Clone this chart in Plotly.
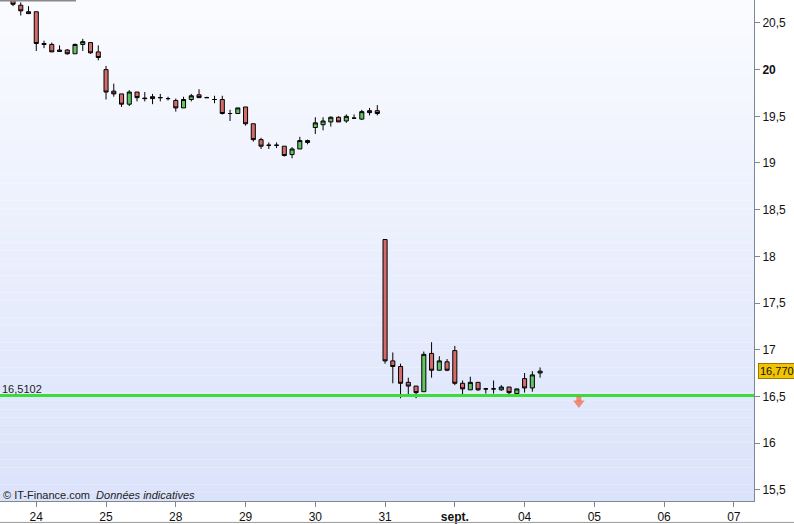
import plotly.graph_objects as go

# ---- data ----
opens = [20.76, 20.69, 20.62, 20.62, 20.28, 20.27, 20.21, 20.21, 20.17, 20.27,
         20.29, 20.19, 20.00, 19.77, 19.74, 19.63, 19.76, 19.695, 19.71, 19.70,
         19.69, 19.67, 19.59, 19.68, 19.73, 19.70, 19.68, 19.68, 19.53, 19.53,
         19.60, 19.42, 19.25, 19.19, 19.19, 19.18, 19.09, 19.15, 19.24, 19.38,
         19.41, 19.44, 19.49, 19.45, 19.48, 19.47, 19.56, 19.56, 18.18, 16.88,
         16.82, 16.65, 16.61, 16.55, 16.96, 16.78, 16.87, 16.99, 16.64, 16.57,
         16.65, 16.58, 16.58, 16.57, 16.60, 16.53, 16.69, 16.59, 16.75]
highs = [20.80, 20.72, 20.68, 20.62, 20.31, 20.29, 20.26, 20.22, 20.28, 20.33,
         20.29, 20.26, 20.04, 19.85, 19.74, 19.78, 19.76, 19.76, 19.74, 19.74,
         19.71, 19.69, 19.71, 19.74, 19.79, 19.71, 19.72, 19.72, 19.57, 19.59,
         19.60, 19.42, 19.27, 19.22, 19.22, 19.18, 19.17, 19.28, 19.25, 19.49,
         19.49, 19.50, 19.50, 19.52, 19.52, 19.57, 19.59, 19.62, 18.18, 16.97,
         16.85, 16.70, 16.61, 16.98, 17.08, 16.93, 16.90, 17.04, 16.67, 16.71,
         16.65, 16.59, 16.67, 16.62, 16.60, 16.58, 16.75, 16.77, 16.81]
lows = [20.68, 20.58, 20.60, 20.20, 20.23, 20.19, 20.19, 20.16, 20.17, 20.20,
        20.17, 20.10, 19.68, 19.71, 19.60, 19.61, 19.66, 19.66, 19.63, 19.66,
        19.67, 19.55, 19.59, 19.66, 19.70, 19.70, 19.64, 19.52, 19.45, 19.53,
        19.40, 19.23, 19.15, 19.15, 19.16, 19.07, 19.05, 19.15, 19.20, 19.31,
        19.35, 19.39, 19.44, 19.43, 19.48, 19.46, 19.51, 19.51, 16.85, 16.64,
        16.48, 16.51, 16.48, 16.55, 16.70, 16.78, 16.77, 16.62, 16.51, 16.57,
        16.56, 16.53, 16.53, 16.56, 16.51, 16.53, 16.54, 16.55, 16.70]
closes = [20.70, 20.63, 20.60, 20.28, 20.27, 20.19, 20.195, 20.17, 20.27, 20.30,
          20.18, 20.13, 19.76, 19.74, 19.63, 19.76, 19.70, 19.69, 19.69, 19.70,
          19.69, 19.59, 19.68, 19.72, 19.70, 19.70, 19.68, 19.53, 19.53, 19.59,
          19.42, 19.25, 19.18, 19.19, 19.19, 19.08, 19.15, 19.24, 19.22, 19.43,
          19.45, 19.49, 19.44, 19.50, 19.48, 19.55, 19.54, 19.53, 16.88, 16.82,
          16.64, 16.61, 16.54, 16.95, 16.78, 16.88, 16.78, 16.64, 16.58, 16.65,
          16.57, 16.58, 16.58, 16.60, 16.54, 16.58, 16.59, 16.73, 16.77]
candle_index = list(range(len(opens)))

day_tick_index = [3, 12, 21, 30, 39, 48, 57, 66, 75, 84, 93]
day_tick_labels = ["24", "25", "28", "29", "30", "31", "<b>sept.</b>", "04", "05", "06", "07"]

price_ticks = [15.5, 16, 16.5, 17, 17.5, 18, 18.5, 19, 19.5, 20, 20.5]
price_tick_labels = ["15,5", "16", "16,5", "17", "17,5", "18", "18,5", "19", "19,5", "<b>20</b>", "20,5"]

support_level = 16.5102
support_label = "16,5102"
last_price = 16.77
last_price_label = "16,770"
signal_index = [73, 73]
signal_arrow_y = [16.475, 16.43]   # arrow shaft, arrow head

# ---- figure ----
fig = go.Figure()

fig.add_trace(go.Candlestick(
    x=candle_index, open=opens, high=highs, low=lows, close=closes,
    increasing=dict(line=dict(color="black", width=1), fillcolor="#62c462"),
    decreasing=dict(line=dict(color="black", width=1), fillcolor="#d46b6b"),
    whiskerwidth=0, showlegend=False, hoverinfo="skip",
))

fig.add_trace(go.Scatter(
    x=[-5, 120], y=[support_level, support_level], mode="lines",
    line=dict(color="#3ddc3d", width=3), showlegend=False, hoverinfo="skip",
))

# sell-signal arrow (shaft + head)
fig.add_trace(go.Scatter(
    x=signal_index, y=signal_arrow_y,
    mode="markers",
    marker=dict(symbol=["square", "triangle-down"], size=[5, 10], color="#f0663e",
                line=dict(width=0)),
    showlegend=False, hoverinfo="skip",
))

# background gradient in the plot area
shapes = []
n = 60
top = (250, 251, 255)
bot = (219, 227, 251)
for k in range(n):
    t = k / (n - 1)
    c = tuple(round(top[j] + (bot[j] - top[j]) * t) for j in range(3))
    shapes.append(dict(type="rect", xref="paper", yref="paper",
                       x0=0, x1=1, y0=1 - (k + 1) / n, y1=1 - k / n,
                       fillcolor="rgb(%d,%d,%d)" % c, line=dict(width=0), layer="below"))
# top-left small gray line
shapes.append(dict(type="line", xref="paper", yref="paper", x0=0, x1=76 / 754,
                   y0=0.999, y1=0.999, line=dict(color="#8a8a8a", width=2)))
# bottom border line of the picture
shapes.append(dict(type="line", xref="paper", yref="paper", x0=0, x1=794 / 754,
                   y0=-21.5 / 503, y1=-21.5 / 503, line=dict(color="#9a9a9a", width=1)))
fig.update_layout(shapes=shapes)

fig.add_annotation(x=0, xref="paper", xanchor="left", xshift=0,
                   y=support_level, yref="y", yanchor="bottom", yshift=-2,
                   text=support_label, showarrow=False,
                   font=dict(family="Liberation Sans, Arial", size=11, color="#222"))

fig.add_annotation(x=1, xref="paper", xanchor="left", xshift=4,
                   y=last_price, yref="y", yanchor="middle",
                   text=last_price_label, showarrow=False,
                   bgcolor="#f2c300", bordercolor="#9a7a00", borderwidth=1, borderpad=1,
                   font=dict(family="Liberation Sans, Arial", size=11, color="#111"))

fig.add_annotation(x=0, xref="paper", xanchor="left", xshift=1,
                   y=0, yref="paper", yanchor="bottom", yshift=-2,
                   text="© IT-Finance.com  <i>Données indicatives</i>", showarrow=False,
                   font=dict(family="Liberation Sans, Arial", size=11, color="#222"))

fig.update_layout(
    width=794, height=524,
    margin=dict(l=0, r=40, t=0, b=21),
    paper_bgcolor="white", plot_bgcolor="rgba(0,0,0,0)",
    font=dict(family="Liberation Sans, Arial", size=12, color="#111"),
    boxgap=0.25,
    xaxis=dict(range=[-1.68, 95.6], tickmode="array", tickvals=day_tick_index,
               ticktext=day_tick_labels, ticks="outside", ticklen=5, tickcolor="#7d8796",
               showline=True, linecolor="#7d8796", linewidth=1, showgrid=False,
               zeroline=False, rangeslider=dict(visible=False), fixedrange=True),
    yaxis=dict(range=[15.379, 20.746], side="right", tickmode="array",
               tickvals=price_ticks, ticktext=price_tick_labels, ticks="outside",
               ticklen=5, tickcolor="#7d8796", showline=True, linecolor="#7d8796",
               linewidth=1, showgrid=False, zeroline=False),
)

fig.write_html("out.html", config={"displayModeBar": False},
               post_script="document.body.style.margin='0';document.body.style.padding='0';document.body.style.overflow='hidden';")
